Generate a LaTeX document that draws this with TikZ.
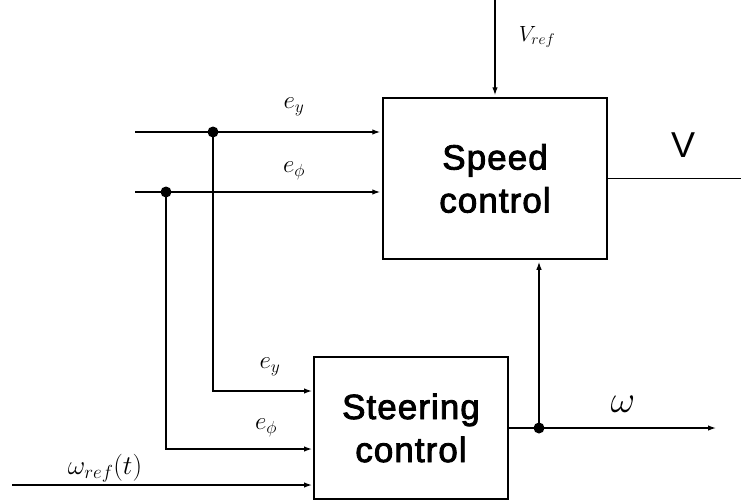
\RequirePackage{fix-cm}
\documentclass[tikz,border=0pt]{standalone}
\usepackage{fontspec}
\usepackage{tikz}
\usetikzlibrary{arrows.meta, positioning, calc}
\newfontfamily\blockfont[FakeBold=2.5, LetterSpace=3]{Liberation Sans}
\newfontfamily\outfont{Liberation Sans}

\begin{document}
\begin{tikzpicture}[
    x=1pt, y=-1pt,
    line width=1.3pt,
    block/.style={draw, line width=1.5pt, align=center, inner sep=0pt,
        font=\blockfont\fontsize{35}{43}\selectfont},
    sig/.style={-{Latex[length=8pt, width=5.5pt]}, shorten >=2pt},
    junction/.style={circle, fill, inner sep=0pt, minimum size=11pt},
    lbl/.style={inner sep=0pt, font=\fontsize{25}{28}\selectfont},
]
    \useasboundingbox (0,0) rectangle (741,501);

    % Blocks
    \node[block, minimum width=224pt, minimum height=161pt] (speed) at (495,178.5) {Speed\\control};
    \node[block, minimum width=194pt, minimum height=142pt] (steer) at (411,428) {Steering\\control};

    % Free ends
    \coordinate (vrefin) at (495,0);
    \coordinate (eyin) at (135,132);
    \coordinate (ephiin) at (135,192);
    \coordinate (wrefin) at (12,485);
    \coordinate (vout) at (741,178.5);
    \coordinate (wout) at (718,428);
    \coordinate (steerey) at (314,391);
    \coordinate (steerephi) at (314,449);
    \coordinate (steerwref) at (314,485);

    % Branch points
    \node[junction] (eydot) at (213,132) {};
    \node[junction] (ephidot) at (166,192) {};
    \node[junction] (wdot) at (539,428) {};

    % Speed control inputs
    \draw[sig] (vrefin) -- (speed.north);
    \draw[sig] (eyin) -- (speed.west |- eyin);
    \draw[sig] (ephiin) -- (speed.west |- ephiin);
    \draw (speed.east) -- (vout);

    % Steering control inputs
    \draw[sig] (eydot.center) |- (steerey);
    \draw[sig] (ephidot.center) |- (steerephi);
    \draw[sig] (wrefin) -- (steerwref);

    % Steering output and feedback
    \draw[sig] (steer.east) -- (wout);
    \draw[sig] (wdot.center) -- (speed.south -| wdot);

    % Labels
    \node[lbl, font=\fontsize{22}{26}\selectfont] (vreflbl) at (537,37) {$V_{ref}$};
    \node[lbl] (eylbl) at (294,107) {$e_y$};
    \node[lbl] (ephilbl) at (294,171) {$e_\phi$};
    \node[lbl] (eylbl2) at (270,367) {$e_y$};
    \node[lbl] (ephilbl2) at (266,428) {$e_\phi$};
    \node[lbl, font=\fontsize{27}{30}\selectfont] (wreflbl) at (105,468) {$\omega_{ref}(t)$};
    \node[inner sep=0pt, font=\outfont\fontsize{36}{40}\selectfont] (vlbl) at (683,145) {V};
    \node[inner sep=0pt, font=\fontsize{38}{40}\selectfont] (wlbl) at (623,404) {$\omega$};
\end{tikzpicture}
\end{document}
